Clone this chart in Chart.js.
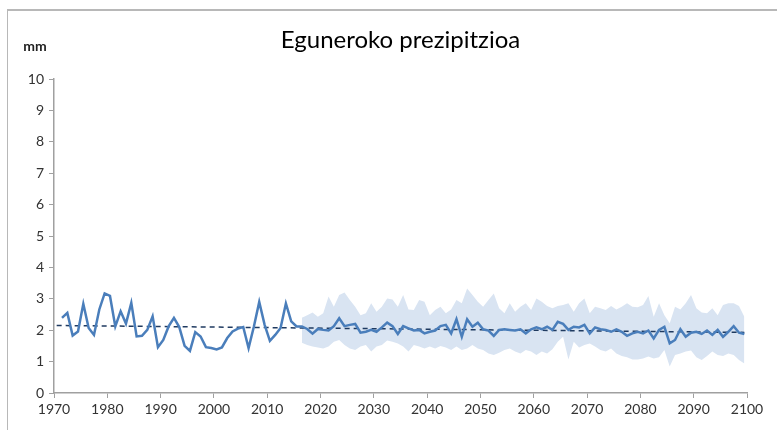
<!DOCTYPE html>
<html>
<head>
<meta charset="utf-8">
<script src="https://cdn.jsdelivr.net/npm/chart.js@4.4.1/dist/chart.umd.min.js"></script>
<style>
  html, body { margin: 0; padding: 0; background: #fff; }
  #wrap { position: relative; width: 777px; height: 430px; overflow: hidden; }
  #frame { position: absolute; left: 7px; top: 9px; width: 800px; height: 500px;
           border-left: 1px solid #b8b8b8; border-top: 2px solid #b8b8b8; }
  canvas { position: absolute; left: 0; top: 0; }
</style>
</head>
<body>
<div id="wrap">
  <div id="frame"></div>
  <canvas id="precipChart" width="777" height="430"></canvas>
</div>
<script>
// urteak (categorías) 1971 - 2099
const years = Array.from({ length: 129 }, (_, i) => 1971 + i);

// prezipitazio seriea (mm/egun), 1971 - 2099
const precip = [
    2.39, 2.55, 1.83, 1.96, 2.84, 2.07, 1.85, 2.66, 3.17, 3.09,
    2.12, 2.60, 2.21, 2.87, 1.80, 1.82, 2.01, 2.44, 1.46, 1.69,
    2.12, 2.39, 2.10, 1.50, 1.34, 1.94, 1.80, 1.46, 1.43, 1.39,
    1.45, 1.75, 1.96, 2.05, 2.10, 1.43, 2.12, 2.90, 2.18, 1.66,
    1.85, 2.07, 2.85, 2.28, 2.12, 2.12, 2.04, 1.89, 2.04, 2.01,
    1.99, 2.13, 2.38, 2.13, 2.17, 2.20, 1.92, 1.95, 2.01, 1.95,
    2.09, 2.24, 2.13, 1.88, 2.13, 2.06, 1.99, 2.01, 1.90, 1.95,
    1.99, 2.13, 2.17, 1.90, 2.35, 1.79, 2.35, 2.11, 2.24, 2.03,
    1.99, 1.82, 2.01, 2.03, 2.01, 1.99, 2.03, 1.90, 2.03, 2.09,
    2.03, 2.11, 2.01, 2.27, 2.20, 2.01, 2.11, 2.09, 2.17, 1.90,
    2.09, 2.03, 2.01, 1.95, 2.03, 1.95, 1.82, 1.90, 1.95, 1.90,
    1.99, 1.74, 2.01, 2.11, 1.58, 1.69, 2.03, 1.79, 1.92, 1.95,
    1.88, 1.99, 1.85, 2.01, 1.79, 1.95, 2.13, 1.92, 1.88
];

// ziurgabetasun tartea, 2016 - 2099
const bandYears = Array.from({ length: 84 }, (_, i) => 2016 + i);
const bandHigh = [
    2.40, 2.48, 2.56, 2.43, 2.54, 3.07, 2.75, 3.12, 3.20, 2.96,
    2.75, 2.48, 2.54, 2.86, 2.59, 2.75, 3.01, 2.98, 2.75, 3.12,
    2.66, 2.64, 2.96, 2.91, 2.48, 2.64, 2.75, 2.54, 2.66, 2.96,
    2.86, 3.33, 3.12, 2.91, 2.75, 2.96, 3.17, 2.70, 2.54, 2.86,
    2.59, 2.75, 2.86, 2.64, 3.01, 2.91, 2.77, 2.70, 2.77, 2.80,
    2.86, 2.59, 2.86, 3.01, 2.54, 2.75, 2.70, 2.64, 2.77, 2.66,
    2.75, 2.86, 2.75, 2.73, 2.80, 3.09, 2.43, 2.86, 2.48, 2.22,
    2.75, 2.66, 2.86, 3.12, 2.70, 2.56, 2.54, 2.70, 2.48, 2.80,
    2.86, 2.86, 2.77, 2.43
];
const bandLow = [
    1.60, 1.53, 1.48, 1.45, 1.42, 1.48, 1.63, 1.69, 1.53, 1.42,
    1.37, 1.48, 1.53, 1.32, 1.48, 1.53, 1.67, 1.63, 1.58, 1.48,
    1.32, 1.53, 1.48, 1.42, 1.48, 1.42, 1.50, 1.45, 1.37, 1.48,
    1.37, 1.42, 1.53, 1.42, 1.37, 1.26, 1.21, 1.28, 1.37, 1.42,
    1.32, 1.26, 1.37, 1.32, 1.21, 1.32, 1.26, 1.39, 1.63, 1.79,
    1.07, 1.63, 1.45, 1.53, 1.58, 1.48, 1.37, 1.32, 1.42, 1.26,
    1.18, 1.14, 1.07, 1.07, 1.10, 1.16, 1.10, 1.14, 1.37, 0.84,
    1.21, 1.26, 1.32, 1.35, 1.14, 1.05, 1.18, 1.32, 1.21, 1.18,
    1.26, 1.21, 1.05, 0.94
];

// joera lineala
const trendYears = [1970, 2099];
const trendValues = [2.15, 1.93];

const yTicks = [0, 1, 2, 3, 4, 5, 6, 7, 8, 9, 10];
const xTicks = [1970, 1980, 1990, 2000, 2010, 2020, 2030, 2040, 2050, 2060, 2070, 2080, 2090, 2100];

const fontName = 'Lato, "Open Sans", sans-serif';

// urteko balioa urtearen erdian kokatzen da
const toPoints = (xs, ys) => xs.map((y, i) => ({ x: y + 0.5, y: ys[i] }));

const textPlugin = {
    id: 'textPlugin',
    afterDraw(chart) {
        const ctx = chart.ctx;
        const area = chart.chartArea;
        ctx.save();
        ctx.fillStyle = '#000';
        ctx.font = '24px ' + fontName;
        ctx.textAlign = 'center';
        ctx.textBaseline = 'middle';
        ctx.fillText('Eguneroko prezipitzioa', (area.left + area.right) / 2, 40);
        ctx.font = 'bold 14px ' + fontName;
        ctx.fillStyle = '#222';
        ctx.fillText('mm', 35, 46);
        ctx.restore();
    }
};

const ctx = document.getElementById('precipChart').getContext('2d');

new Chart(ctx, {
    type: 'line',
    data: {
        datasets: [
            {
                label: 'Prezipitazioa',
                data: toPoints(years, precip),
                borderColor: '#4a7ebb',
                borderWidth: 2.5,
                pointRadius: 0,
                fill: false,
                tension: 0
            },
            {
                label: 'Joera',
                data: toPoints(trendYears, trendValues),
                borderColor: '#1f3a60',
                borderWidth: 1.5,
                borderDash: [5, 4],
                pointRadius: 0,
                fill: false
            },
            {
                label: 'Min',
                data: toPoints(bandYears, bandLow),
                borderWidth: 0,
                borderColor: 'rgba(0,0,0,0)',
                pointRadius: 0,
                fill: false
            },
            {
                label: 'Max',
                data: toPoints(bandYears, bandHigh),
                borderWidth: 0,
                borderColor: 'rgba(0,0,0,0)',
                backgroundColor: '#d9e4f2',
                pointRadius: 0,
                fill: '-1'
            }
        ]
    },
    options: {
        responsive: false,
        animation: false,
        layout: {
            padding: { top: 79, left: 10, right: 30, bottom: 7 }
        },
        plugins: {
            legend: { display: false },
            tooltip: { enabled: false },
            title: { display: false }
        },
        scales: {
            x: {
                type: 'linear',
                min: 1970,
                max: 2100,
                afterFit: s => { s.height = 30; },
                afterBuildTicks: s => { s.ticks = xTicks.map(v => ({ value: v })); },
                ticks: {
                    color: '#333',
                    font: { family: fontName, size: 14 },
                    padding: 3,
                    maxRotation: 0,
                    autoSkip: false,
                    callback: v => String(v)
                },
                grid: {
                    drawOnChartArea: false,
                    drawTicks: true,
                    tickLength: 5,
                    color: '#a0a0a0'
                },
                border: { display: true, color: '#a0a0a0', width: 1.5 }
            },
            y: {
                min: 0,
                max: 10,
                afterFit: s => { s.width = 44; },
                afterBuildTicks: s => { s.ticks = yTicks.map(v => ({ value: v })); },
                ticks: {
                    color: '#333',
                    font: { family: fontName, size: 14 },
                    padding: 5
                },
                grid: {
                    drawOnChartArea: false,
                    drawTicks: true,
                    tickLength: 5,
                    color: '#a0a0a0'
                },
                border: { display: true, color: '#a0a0a0', width: 1.5 }
            }
        }
    },
    plugins: [textPlugin]
});
</script>
</body>
</html>
